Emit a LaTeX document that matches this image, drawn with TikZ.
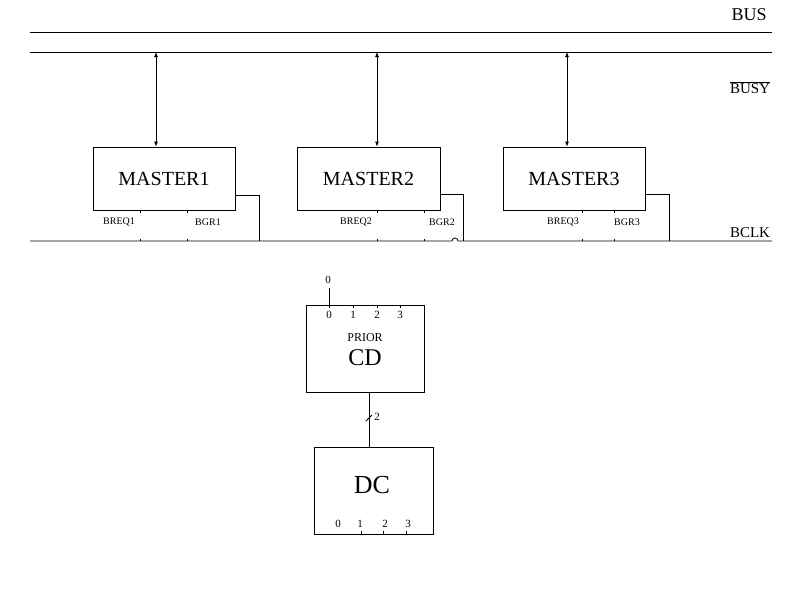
\documentclass[tikz,border=0pt]{standalone}
\usepackage{fontspec}
\setmainfont{Liberation Serif}
\usetikzlibrary{arrows.meta}

\begin{document}
\begin{tikzpicture}[x=1pt,y=-1pt,line width=0.8pt]
\tikzstyle{master}=[draw,minimum width=142pt,minimum height=63pt,inner sep=0pt,font=\fontsize{20}{24}\selectfont]
\tikzstyle{unit}=[draw,minimum width=118pt,minimum height=87pt,inner sep=0pt]
\tikzstyle{sig}=[inner sep=0pt,font=\fontsize{10}{12}\selectfont]
\tikzstyle{pin}=[inner sep=0pt,font=\fontsize{11}{13}\selectfont]
\tikzstyle{busname}=[inner sep=0pt,font=\fontsize{15}{18}\selectfont]
\tikzstyle{link}=[{Latex[length=5pt,width=4pt]}-{Latex[length=5pt,width=4pt]}]
\useasboundingbox (0,0) rectangle (800,600);

% bus lines
\coordinate (busL) at (30,32);  \coordinate (busR) at (772,32);
\coordinate (bsyL) at (30,52);  \coordinate (bsyR) at (772,52);
\coordinate (clkL) at (30,241); \coordinate (clkR) at (772,241);
\draw (busL) -- (busR);
\draw (bsyL) -- (bsyR);
\draw (clkL) -- (452,241) arc[start angle=180,end angle=360,radius=3] -- (clkR);
\node[busname,font=\fontsize{18}{20}\selectfont] (bus) at (749,15) {BUS};
\node[busname] (busy) at (750,88) {$\overline{\hbox{BUSY}}$};
\node[busname] (bclk) at (750,233) {BCLK};

% masters
\node[master] (m1) at (164,178.5) {MASTER1};
\node[master,minimum width=143pt] (m2) at (368.5,178.5) {MASTER2};
\node[master] (m3) at (574,178.5) {MASTER3};

\coordinate (a1) at (156,52); \coordinate (a2) at (377,52); \coordinate (a3) at (567,52);
\draw[link] (a1) -- (a1 |- m1.north);
\draw[link] (a2) -- (a2 |- m2.north);
\draw[link] (a3) -- (a3 |- m3.north);

\coordinate (g1) at (259,241); \coordinate (g2) at (463,241); \coordinate (g3) at (669,241);
\draw (m1.south east) ++(0,-15) -| (g1);
\draw (m2.south east) ++(0,-16) -| (g2);
\draw (m3.south east) ++(0,-16) -| (g3);

% request / grant pins
\foreach \x in {140,187,377,424,582,614}{
  \draw (\x,210) -- ++(0,2.5);
  \draw (\x,241) -- ++(0,-2.5);
}
\node[sig] (breq1) at (119,222) {BREQ1};
\node[sig] (bgr1) at (208,222) {BGR1};
\node[sig] (breq2) at (356,222) {BREQ2};
\node[sig] (bgr2) at (442,222) {BGR2};
\node[sig] (breq3) at (563,222) {BREQ3};
\node[sig] (bgr3) at (627,222) {BGR3};

% priority coder
\node[unit] (cd) at (365,348.5) {};
\node[inner sep=0pt,font=\fontsize{12}{14}\selectfont] (prior) at (365,338) {PRIOR};
\node[inner sep=0pt,font=\fontsize{24}{28}\selectfont] (cdname) at (365,358) {CD};
\coordinate (in0) at (329,288);
\draw (in0) -- (in0 |- cd.north);
\node[pin] (zero) at (328,280) {0};
\foreach \x/\t in {329/0,353/1,377/2,400/3}{
  \draw (\x,305) -- ++(0,3);
  \node[pin] at (\x,315) {\t};
}

% decoder
\node[unit,minimum width=119pt] (dc) at (373.5,490.5) {};
\node[inner sep=0pt,font=\fontsize{26}{30}\selectfont] (dcname) at (372,485) {DC};
\foreach \x/\t in {338/0,360/1,385/2,408/3}{
  \node[pin] at (\x,524) {\t};
}
\foreach \x in {361,383,406}{
  \draw (\x,531) -- ++(0,3);
}
\coordinate (cdo) at (369,0);
\draw (cdo |- cd.south) -- (cdo |- dc.north);
\draw (366,421) -- (372,415);
\node[pin] (width) at (377,417) {2};
\end{tikzpicture}
\end{document}
